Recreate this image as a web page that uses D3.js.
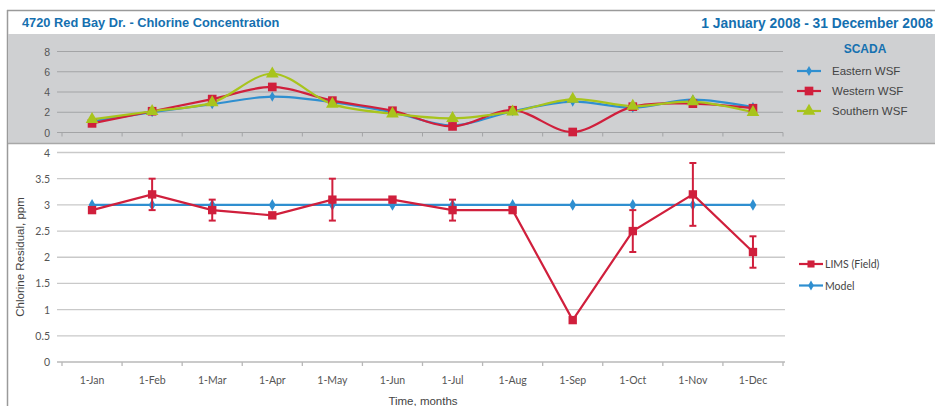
<!DOCTYPE html>
<html>
<head>
<meta charset="utf-8">
<script src="https://cdn.jsdelivr.net/npm/d3@7"></script>
<style>
  body { margin: 0; background: #fff; }
  svg { display: block; }
</style>
</head>
<body>
<div id="chart"></div>
<script>
const months = ['1-Jan', '1-Feb', '1-Mar', '1-Apr', '1-May', '1-Jun', '1-Jul', '1-Aug', '1-Sep', '1-Oct', '1-Nov', '1-Dec'];

// SCADA (top panel)
const eastern = [1.1, 2.0, 2.8, 3.55, 3.0, 2.0, 0.7, 2.1, 3.05, 2.45, 3.25, 2.5];
const western = [0.9, 2.1, 3.3, 4.5, 3.15, 2.15, 0.6, 2.2, 0.05, 2.55, 2.85, 2.4];
const southern = [1.3, 2.1, 2.95, 5.8, 2.8, 1.85, 1.4, 2.05, 3.3, 2.6, 3.05, 2.0];
const scadaTicks = [0, 2, 4, 6, 8];

// Bottom panel
const lims = [2.9, 3.2, 2.9, 2.8, 3.1, 3.1, 2.9, 2.9, 0.8, 2.5, 3.2, 2.1];
const limsErr = [0, 0.3, 0.2, 0, 0.4, 0, 0.2, 0, 0, 0.4, 0.6, 0.3];
const model = [3, 3, 3, 3, 3, 3, 3, 3, 3, 3, 3, 3];
const residTicks = [0, 0.5, 1, 1.5, 2, 2.5, 3, 3.5, 4];

const RED = '#d01f3c';
const BLUE = '#2f8fd0';
const GREEN = '#a8c41c';
const TITLE = '#1570b0';

const width = 935;
const height = 406;

const svg = d3.select('#chart').append('svg')
  .attr('width', width)
  .attr('height', height);

// frame + header
svg.append('line').attr('x1', 7).attr('x2', width).attr('y1', 10.5).attr('y2', 10.5)
  .attr('stroke', '#9a9a9a').attr('stroke-width', 1.5);
svg.append('line').attr('x1', 7.5).attr('x2', 7.5).attr('y1', 10).attr('y2', height)
  .attr('stroke', '#9a9a9a').attr('stroke-width', 1.5);
svg.append('text').attr('x', 22).attr('y', 27)
  .attr('font-family', 'Liberation Sans, Arial, sans-serif').attr('font-size', 12.8).attr('font-weight', 'bold')
  .attr('fill', TITLE).text('4720 Red Bay Dr. - Chlorine Concentration');
svg.append('text').attr('x', 933).attr('y', 28).attr('text-anchor', 'end')
  .attr('font-family', 'Liberation Sans, Arial, sans-serif').attr('font-size', 13.8).attr('font-weight', 'bold')
  .attr('fill', TITLE).text('1 January 2008 - 31 December 2008');

// gray SCADA panel
svg.append('rect').attr('x', 8).attr('y', 34).attr('width', width - 8).attr('height', 109)
  .attr('fill', '#cfd0d2');
svg.append('line').attr('x1', 8).attr('x2', width).attr('y1', 143.5).attr('y2', 143.5)
  .attr('stroke', '#a8a8a8').attr('stroke-width', 1.5);

const x = d3.scaleBand().domain(months).range([62, 783]);
const cx = (i) => x(months[i]) + x.bandwidth() / 2;

// ---------- top chart ----------
const yTop = d3.scaleLinear().domain([0, 8]).range([132.5, 51.5]);
const topG = svg.append('g');
topG.selectAll('.gt').data(scadaTicks).enter().append('line')
  .attr('x1', 57).attr('x2', 783)
  .attr('y1', (d) => yTop(d)).attr('y2', (d) => yTop(d))
  .attr('stroke', '#a3a4a6').attr('stroke-width', 1);
topG.selectAll('.lt').data(scadaTicks).enter().append('text')
  .attr('x', 50).attr('y', (d) => yTop(d) + 4)
  .attr('text-anchor', 'end')
  .attr('font-family', 'Liberation Sans, Arial, sans-serif').attr('font-size', 10.5)
  .attr('fill', '#555').text((d) => d);
topG.selectAll('.xt').data(d3.range(13)).enter().append('line')
  .attr('x1', (d) => 62 + d * x.step()).attr('x2', (d) => 62 + d * x.step())
  .attr('y1', yTop(0)).attr('y2', yTop(0) + 4)
  .attr('stroke', '#a3a4a6');

const smooth = d3.line().curve(d3.curveCatmullRom.alpha(0.5))
  .x((d, i) => cx(i)).y((d) => yTop(d));

const scada = [
  { name: 'Eastern WSF', values: eastern, color: BLUE, shape: 'diamond' },
  { name: 'Western WSF', values: western, color: RED, shape: 'square' },
  { name: 'Southern WSF', values: southern, color: GREEN, shape: 'triangle' },
];

const symbols = {
  diamond: d3.symbol().type(d3.symbolDiamond).size(30),
  square: d3.symbol().type(d3.symbolSquare).size(75),
  triangle: d3.symbol().type(d3.symbolTriangle).size(70),
};

scada.forEach((s) => {
  topG.append('path').attr('d', smooth(s.values))
    .attr('fill', 'none').attr('stroke', s.color).attr('stroke-width', 2.2);
});
scada.forEach((s) => {
  topG.selectAll(null).data(s.values).enter().append('path')
    .attr('d', symbols[s.shape]())
    .attr('transform', (d, i) => `translate(${cx(i)},${yTop(d)})`)
    .attr('fill', s.color);
});

// SCADA legend
svg.append('text').attr('x', 865).attr('y', 53).attr('text-anchor', 'middle')
  .attr('font-family', 'Liberation Sans, Arial, sans-serif').attr('font-size', 12).attr('font-weight', 'bold')
  .attr('fill', TITLE).text('SCADA');
scada.forEach((s, i) => {
  const ly = 71 + i * 20;
  svg.append('line').attr('x1', 797).attr('x2', 821).attr('y1', ly).attr('y2', ly)
    .attr('stroke', s.color).attr('stroke-width', 2.2);
  svg.append('path').attr('d', symbols[s.shape]())
    .attr('transform', `translate(809,${ly})`).attr('fill', s.color);
  svg.append('text').attr('x', 832).attr('y', ly + 4)
    .attr('font-family', 'Liberation Sans, Arial, sans-serif').attr('font-size', 11.5)
    .attr('fill', '#444').text(s.name);
});

// ---------- bottom chart ----------
const y = d3.scaleLinear().domain([0, 4]).range([362, 152.5]);
const bot = svg.append('g');
bot.selectAll('.gb').data(residTicks).enter().append('line')
  .attr('x1', 57).attr('x2', 785)
  .attr('y1', (d) => y(d)).attr('y2', (d) => y(d))
  .attr('stroke', (d) => (d === 0 ? '#b8b8b8' : '#c9c9c9')).attr('stroke-width', 1.3);
bot.selectAll('.lb').data(residTicks).enter().append('text')
  .attr('x', 50).attr('y', (d) => y(d) + 4)
  .attr('text-anchor', 'end')
  .attr('font-family', 'Lato, Open Sans, sans-serif').attr('font-size', 10.5)
  .attr('fill', '#555').text((d) => d);
bot.selectAll('.xb').data(d3.range(13)).enter().append('line')
  .attr('x1', (d) => 62 + d * x.step()).attr('x2', (d) => 62 + d * x.step())
  .attr('y1', y(0)).attr('y2', y(0) + 4)
  .attr('stroke', '#b8b8b8').attr('stroke-width', 1.3);
bot.selectAll('.mb').data(months).enter().append('text')
  .attr('x', (d) => x(d) + x.bandwidth() / 2).attr('y', 384)
  .attr('text-anchor', 'middle')
  .attr('font-family', 'Lato, Open Sans, sans-serif').attr('font-size', 10.5)
  .attr('fill', '#555').text((d) => d);
svg.append('text').attr('x', 423).attr('y', 405).attr('text-anchor', 'middle')
  .attr('font-family', 'Liberation Sans, Arial, sans-serif').attr('font-size', 11.5)
  .attr('fill', '#444').text('Time, months');
svg.append('text').attr('transform', 'translate(24,257) rotate(-90)').attr('text-anchor', 'middle')
  .attr('font-family', 'Liberation Sans, Arial, sans-serif').attr('font-size', 11.5)
  .attr('fill', '#444').text('Chlorine Residual, ppm');

const straight = d3.line().x((d, i) => cx(i)).y((d) => y(d));

// model line
bot.append('path').attr('d', straight(model))
  .attr('fill', 'none').attr('stroke', BLUE).attr('stroke-width', 2.2);
bot.selectAll(null).data(model).enter().append('path')
  .attr('d', d3.symbol().type(d3.symbolDiamond).size(40)())
  .attr('transform', (d, i) => `translate(${cx(i)},${y(d)})`)
  .attr('fill', BLUE);

// LIMS line with error bars
bot.append('path').attr('d', straight(lims))
  .attr('fill', 'none').attr('stroke', RED).attr('stroke-width', 2.2);
const eb = bot.selectAll('.eb').data(lims.map((v, i) => ({ v, e: limsErr[i], i })).filter((d) => d.e > 0))
  .enter().append('g').attr('stroke', RED).attr('stroke-width', 2);
eb.append('line').attr('x1', (d) => cx(d.i)).attr('x2', (d) => cx(d.i))
  .attr('y1', (d) => y(d.v - d.e)).attr('y2', (d) => y(d.v + d.e));
eb.append('line').attr('x1', (d) => cx(d.i) - 3.5).attr('x2', (d) => cx(d.i) + 3.5)
  .attr('y1', (d) => y(d.v + d.e)).attr('y2', (d) => y(d.v + d.e));
eb.append('line').attr('x1', (d) => cx(d.i) - 3.5).attr('x2', (d) => cx(d.i) + 3.5)
  .attr('y1', (d) => y(d.v - d.e)).attr('y2', (d) => y(d.v - d.e));
bot.selectAll(null).data(lims).enter().append('path')
  .attr('d', d3.symbol().type(d3.symbolSquare).size(70)())
  .attr('transform', (d, i) => `translate(${cx(i)},${y(d)})`)
  .attr('fill', RED);

// bottom legend
const botLegend = [
  { name: 'LIMS (Field)', color: RED, sym: d3.symbol().type(d3.symbolSquare).size(50) },
  { name: 'Model', color: BLUE, sym: d3.symbol().type(d3.symbolDiamond).size(28) },
];
botLegend.forEach((s, i) => {
  const ly = 264 + i * 21.5;
  svg.append('line').attr('x1', 799).attr('x2', 823).attr('y1', ly).attr('y2', ly)
    .attr('stroke', s.color).attr('stroke-width', 2.2);
  svg.append('path').attr('d', s.sym()).attr('transform', `translate(811,${ly})`).attr('fill', s.color);
  svg.append('text').attr('x', 825).attr('y', ly + 4)
    .attr('font-family', 'Lato, Open Sans, sans-serif').attr('font-size', 10.5)
    .attr('fill', '#444').text(s.name);
});
</script>
</body>
</html>
